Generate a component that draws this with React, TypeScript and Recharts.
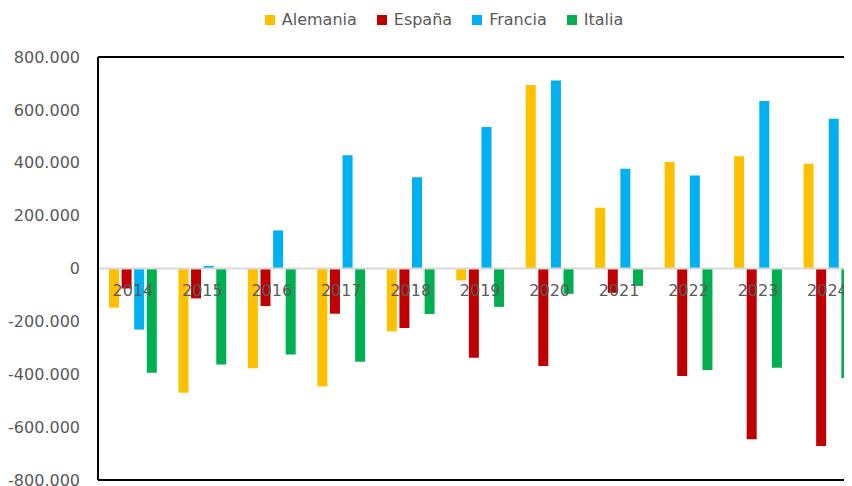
import { BarChart, Bar, XAxis, YAxis, Legend, ReferenceLine, LabelList } from 'recharts';

const years = ['2014', '2015', '2016', '2017', '2018', '2019', '2020', '2021', '2022', '2023', '2024'];
const alemania = [-148000, -470000, -377000, -446000, -238000, -45000, 694000, 230000, 403000, 425000, 396000];
const espana = [-76000, -113000, -142000, -171000, -225000, -338000, -369000, -92000, -407000, -646000, -671000];
const francia = [-231000, 10000, 144000, 428000, 345000, 535000, 711000, 377000, 352000, 634000, 566000];
const italia = [-394000, -363000, -325000, -353000, -172000, -145000, -96000, -66000, -384000, -375000, -414000];
const yTicks = [-800000, -600000, -400000, -200000, 0, 200000, 400000, 600000, 800000];

const series = [
  { key: 'Alemania', color: '#FFC000', values: alemania },
  { key: 'España', color: '#C00000', values: espana },
  { key: 'Francia', color: '#00B0F0', values: francia },
  { key: 'Italia', color: '#00B050', values: italia },
];

const data = years.map((year, i) => {
  const row: Record<string, string | number> = { year };
  series.forEach((s) => (row[s.key] = s.values[i]));
  return row;
});

const FONT = '"DejaVu Sans", Verdana, sans-serif';
const GREY = '#595959';
const BAR = 10;
const GAP = 2.6;

const fmt = (v: number) => {
  if (v === 0) return '0';
  const s = Math.abs(v).toString().replace(/\B(?=(\d{3})+(?!\d))/g, '.');
  return (v < 0 ? '-' : '') + s;
};

// year labels drawn with the last series so they sit on top of all bars, just under the zero line
const YearLabel = (props: any) => {
  const { x, y, width, height, value, index } = props;
  const zeroY = value < 0 ? Math.min(y, y + height) : Math.max(y, y + height);
  const cx = x + width / 2 - 1.5 * (BAR + GAP);
  return (
    <text x={cx} y={zeroY + 16} dy="0.71em" textAnchor="middle" fill={GREY} fontSize={16} fontFamily={FONT}>
      {years[index]}
    </text>
  );
};

const LegendBox = () => (
  <div style={{ display: 'flex', justifyContent: 'center', gap: 20, paddingLeft: 26, fontFamily: FONT, fontSize: 16, color: GREY }}>
    {series.map((s) => (
      <div key={s.key} style={{ display: 'flex', alignItems: 'center' }}>
        <span style={{ width: 10, height: 10, background: s.color, display: 'inline-block', marginRight: 7 }} />
        <span>{s.key}</span>
      </div>
    ))}
  </div>
);

export default function App() {
  return (
    <div style={{ width: 852, height: 486, overflow: 'hidden', marginLeft: -8, marginTop: -8, background: '#fff' }}>
      <BarChart
        width={862}
        height={510}
        data={data}
        margin={{ top: 27, right: 0, bottom: 0, left: 0 }}
        barSize={BAR}
        barGap={GAP}
      >
        <Legend verticalAlign="top" height={30} content={LegendBox} wrapperStyle={{ top: 10 }} />
        <YAxis
          width={98}
          domain={[-800000, 800000]}
          ticks={yTicks}
          tickFormatter={fmt}
          tickLine={false}
          tickSize={6}
          tickMargin={12}
          axisLine={{ stroke: '#000', strokeWidth: 2 }}
          tick={{ fill: GREY, fontSize: 16, fontFamily: FONT }}
          interval={0}
        />
        <XAxis dataKey="year" height={30} axisLine={false} tickLine={false} tick={false} />
        <ReferenceLine y={0} stroke="#D9D9D9" strokeWidth={2} />
        <ReferenceLine y={800000} stroke="#000" strokeWidth={2} />
        <ReferenceLine y={-800000} stroke="#000" strokeWidth={2} />
        {series.map((s, i) => (
          <Bar key={s.key} dataKey={s.key} fill={s.color} isAnimationActive={false}>
            {i === series.length - 1 && <LabelList dataKey={s.key} content={YearLabel} />}
          </Bar>
        ))}
      </BarChart>
    </div>
  );
}
